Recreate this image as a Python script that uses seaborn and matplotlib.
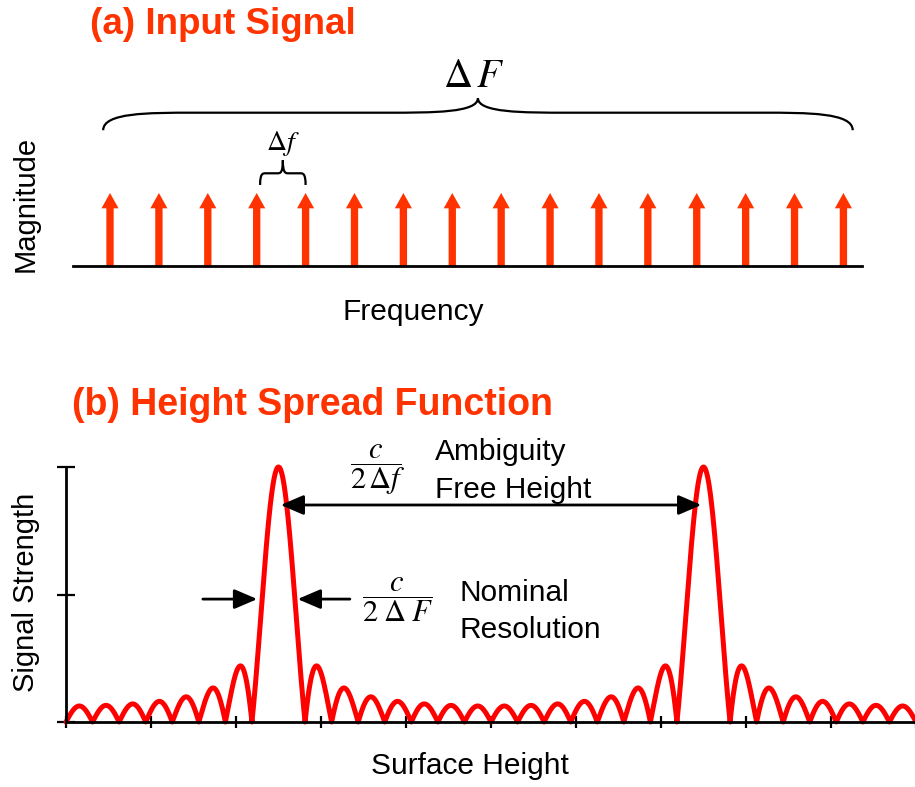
import matplotlib
matplotlib.use("Agg")
import matplotlib.pyplot as plt
from matplotlib.path import Path
from matplotlib.patches import PathPatch
import numpy as np
import pandas as pd
import seaborn as sns

# input signal: 16 equally spaced tones of equal magnitude
tone_index = list(range(16))
tone_magnitude = [1.0] * 16

# surface height axis (in units of the ambiguity free height c / 2df)
height_range = (-0.5, 1.5)
height_ticks = [-0.5, -0.3, -0.1, 0.1, 0.3, 0.5, 0.7, 0.9, 1.1, 1.3, 1.5]
strength_ticks = [0.0, 0.5, 1.0]

orange = "#FF3300"
red = "#FF0000"

sns.set_theme(style="white")
plt.rcParams["font.family"] = ["Liberation Sans", "DejaVu Sans"]
plt.rcParams["mathtext.fontset"] = "stix"
plt.rcParams["text.color"] = "black"

fig = plt.figure(figsize=(9.15, 7.87), dpi=100)


def brace(ax, x0, x1, y_end, y_mid, y_tip, lw=1.5):
    """curly brace opening downward, drawn in data coords"""
    xc = (x0 + x1) / 2
    r = (x1 - x0) * 0.06
    verts = [
        (x0, y_end), (x0, y_mid), (x0 + r, y_mid), (x0 + 2 * r, y_mid),
        (xc - 2 * r, y_mid),
        (xc - r, y_mid), (xc, y_mid), (xc, y_tip),
        (xc, y_mid), (xc + r, y_mid), (xc + 2 * r, y_mid),
        (x1 - 2 * r, y_mid),
        (x1 - r, y_mid), (x1, y_mid), (x1, y_end),
    ]
    codes = [Path.MOVETO, Path.CURVE4, Path.CURVE4, Path.CURVE4,
             Path.LINETO,
             Path.CURVE4, Path.CURVE4, Path.CURVE4,
             Path.CURVE4, Path.CURVE4, Path.CURVE4,
             Path.LINETO,
             Path.CURVE4, Path.CURVE4, Path.CURVE4]
    ax.add_patch(PathPatch(Path(verts, codes), fill=False, lw=lw,
                           color="black", clip_on=False))


# ---------------- (a) input signal ----------------
ax1 = fig.add_axes([73 / 915, 1 - 266 / 787, 789 / 915, 206 / 787])
ax1.set_xlim(-0.757, 15.38)
ax1.set_ylim(0, 206 / 73)
for k, m in zip(tone_index, tone_magnitude):
    ax1.arrow(k, 0, 0, m, width=0.15, head_width=0.35, head_length=0.21,
              length_includes_head=True, color=orange, lw=0)
for s in ["top", "left", "right"]:
    ax1.spines[s].set_visible(False)
ax1.spines["bottom"].set_color("black")
ax1.spines["bottom"].set_linewidth(2)
ax1.set_xticks([])
ax1.set_yticks([])
ax1.patch.set_alpha(0)

brace(ax1, -0.14, 15.19, 1.86, 2.10, 2.30, lw=1.6)
brace(ax1, 3.07, 4.0, 1.11, 1.27, 1.45, lw=1.6)
ax1.text(7.45, 2.6, r"$\Delta\, F$", fontsize=29, ha="center", va="center")
ax1.text(3.54, 1.68, r"$\Delta f$", fontsize=20, ha="center", va="center")

fig.text(90 / 915, 1 - 25 / 787, "(a) Input Signal", fontsize=26.5,
         fontweight="bold", color=orange, ha="left", va="center")
fig.text(413 / 915, 1 - 312 / 787, "Frequency", fontsize=21.5,
         ha="center", va="center")
fig.text(26 / 915, 1 - 204 / 787, "Magnitude", fontsize=21,
         rotation=90, ha="center", va="center")

# ---------------- (b) height spread function ----------------
h = np.linspace(height_range[0], height_range[1], 4001)
phasors = np.array(tone_magnitude)[:, None] * np.exp(
    2j * np.pi * np.array(tone_index)[:, None] * h[None, :])
hsf = np.abs(phasors.sum(axis=0)) / np.sum(tone_magnitude)
df = pd.DataFrame({"height": h, "strength": hsf})

ax2 = fig.add_axes([66 / 915, 65 / 787, 850 / 915, 255 / 787])
sns.lineplot(data=df, x="height", y="strength", ax=ax2, color=red,
             lw=3.6, clip_on=False)
ax2.set_xlim(*height_range)
ax2.set_ylim(0, 1)
ax2.set_xticks(height_ticks)
ax2.set_yticks(strength_ticks)
ax2.set_xticklabels([])
ax2.set_yticklabels([])
ax2.set_xlabel("")
ax2.set_ylabel("")
ax2.tick_params(axis="x", direction="inout", length=9, width=1.6,
                color="black", bottom=True)
ax2.tick_params(axis="y", direction="inout", length=13, width=1.6,
                color="black", left=True)
for s in ["top", "right"]:
    ax2.spines[s].set_visible(False)
for s in ["left", "bottom"]:
    ax2.spines[s].set_color("black")
    ax2.spines[s].set_linewidth(2)
ax2.patch.set_alpha(0)

arrow_kw = dict(color="black", lw=2, mutation_scale=20, shrinkA=0, shrinkB=0)
# ambiguity free height arrow between the two main peaks
ax2.annotate("", xy=(0.005, 0.851), xytext=(0.995, 0.851),
             arrowprops=dict(arrowstyle="<|-|>,head_length=0.7,head_width=0.3",
                             **arrow_kw))
# nominal resolution arrows on the main lobe
ax2.annotate("", xy=(-0.050, 0.482), xytext=(-0.178, 0.482),
             arrowprops=dict(arrowstyle="-|>,head_length=0.7,head_width=0.3",
                             **arrow_kw))
ax2.annotate("", xy=(0.045, 0.482), xytext=(0.168, 0.482),
             arrowprops=dict(arrowstyle="-|>,head_length=0.7,head_width=0.3",
                             **arrow_kw))

fig.text(378 / 915, 1 - 470 / 787, r"$\dfrac{c}{2\,\Delta f}$", fontsize=22,
         ha="center", va="center")
fig.text(398 / 915, 1 - 600 / 787, r"$\dfrac{c}{2\;\Delta\; F}$", fontsize=22,
         ha="center", va="center")
fig.text(435 / 915, 1 - 452 / 787, "Ambiguity", fontsize=21.5,
         ha="left", va="center")
fig.text(435 / 915, 1 - 490 / 787, "Free Height", fontsize=21.5,
         ha="left", va="center")
fig.text(460 / 915, 1 - 593 / 787, "Nominal", fontsize=21.5,
         ha="left", va="center")
fig.text(460 / 915, 1 - 630 / 787, "Resolution", fontsize=21.5,
         ha="left", va="center")

fig.text(72 / 915, 1 - 405 / 787, "(b) Height Spread Function", fontsize=27,
         fontweight="bold", color=orange, ha="left", va="center")
fig.text(470 / 915, 1 - 766 / 787, "Surface Height", fontsize=21.5,
         ha="center", va="center")
fig.text(26 / 915, 1 - 592 / 787, "Signal Strength", fontsize=21,
         rotation=90, ha="center", va="center")

fig.savefig("out.png", dpi=100)
plt.close(fig)
